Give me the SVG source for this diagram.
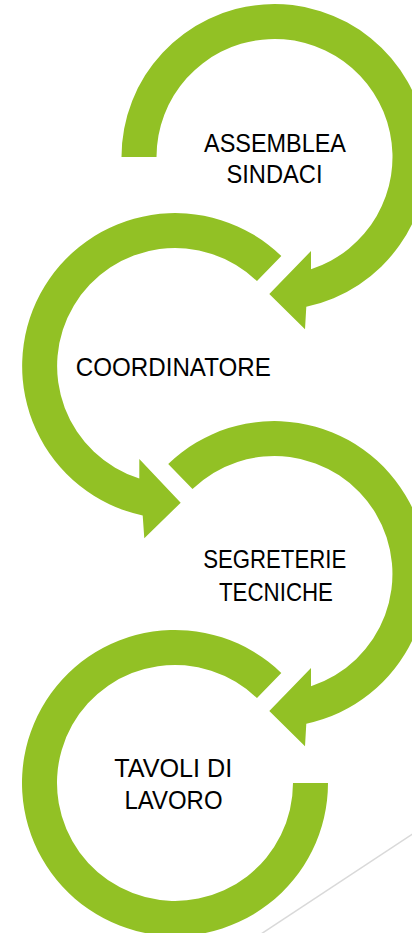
<svg xmlns="http://www.w3.org/2000/svg" width="412" height="933" viewBox="0 0 412 933">
  <style>
    .ring { fill: #92C125; stroke: none; }
    .lbl { font-family: "Liberation Sans", "Open Sans", sans-serif; font-size: 26px; fill: #000000; text-anchor: middle; }
    .deco { stroke: #D9D9D9; stroke-width: 1.5; fill: none; }
  </style>
  <rect width="412" height="933" fill="#FFFFFF"/>
  <g id="decoration">
    <line class="deco" x1="420" y1="829" x2="261" y2="934"/>
  </g>
  <g id="connectors">
    <path class="ring" d="M 121.5,157 A 153 153 0 1 1 306.3,306.7 L 305,329.3 L 269.3,294 L 311,251 L 311,269.2 A 118 118 0 1 0 156.5,157 Z"/>
    <path class="ring" d="M 281.3,255.9 A 153 153 0 1 0 142.7,515.6 L 144.3,538.3 L 180.7,502.7 L 139.3,459 L 139.3,478.5 A 118 118 0 1 1 257,281.1 Z"/>
    <path class="ring" d="M 168.2,463.9 A 153 153 0 1 1 306.3,723.7 L 305,746.3 L 269.3,711 L 311,668 L 311,686.2 A 118 118 0 1 0 192.5,489.1 Z"/>
    <path class="ring" d="M 281.3,672.9 A 153 153 0 1 0 328,783 L 293,783 A 118 118 0 1 1 257,698.1 Z"/>
  </g>
  <g id="node-assemblea">
    <text class="lbl" x="275" y="151.5" textLength="142" lengthAdjust="spacingAndGlyphs">ASSEMBLEA</text>
    <text class="lbl" x="274.5" y="183.3" textLength="96" lengthAdjust="spacingAndGlyphs">SINDACI</text>
  </g>
  <g id="node-coordinatore">
    <text class="lbl" x="173.3" y="376" textLength="195" lengthAdjust="spacingAndGlyphs">COORDINATORE</text>
  </g>
  <g id="node-segreterie">
    <text class="lbl" x="274.7" y="568.3" textLength="143" lengthAdjust="spacingAndGlyphs">SEGRETERIE</text>
    <text class="lbl" x="276" y="601" textLength="114" lengthAdjust="spacingAndGlyphs">TECNICHE</text>
  </g>
  <g id="node-tavoli">
    <text class="lbl" x="173.3" y="776.7" textLength="118" lengthAdjust="spacingAndGlyphs">TAVOLI DI</text>
    <text class="lbl" x="173.5" y="809.3" textLength="98" lengthAdjust="spacingAndGlyphs">LAVORO</text>
  </g>
</svg>
